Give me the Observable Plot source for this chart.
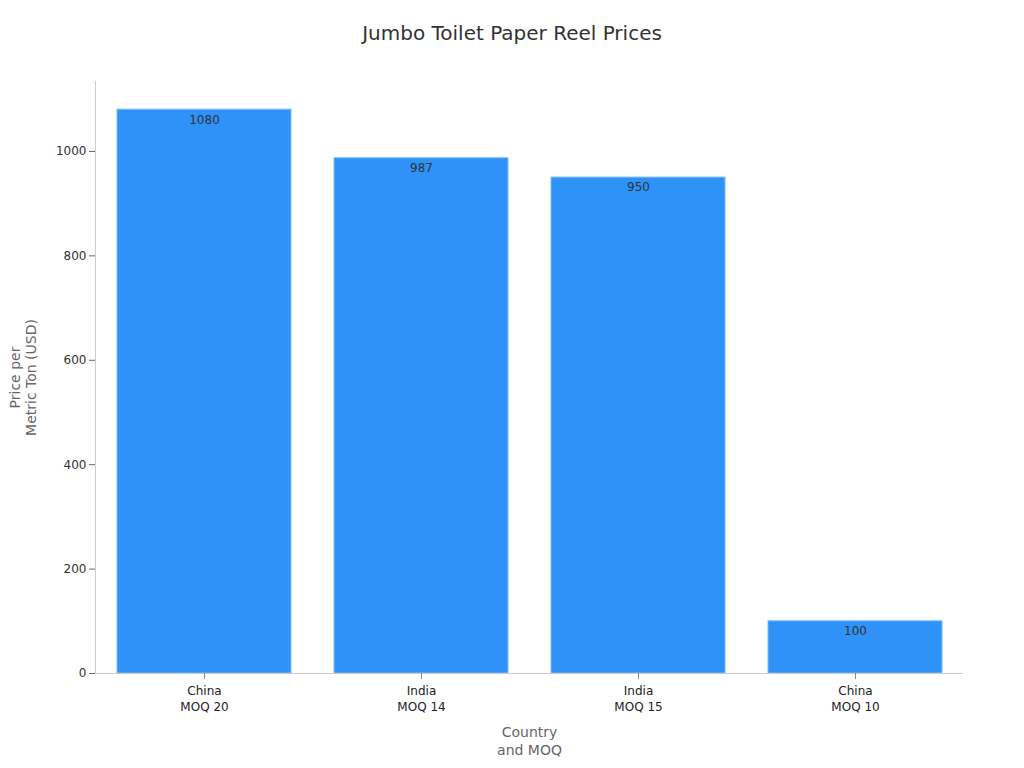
<!DOCTYPE html>
<html>
<head>
<meta charset="utf-8">
<script src="https://cdn.jsdelivr.net/npm/d3@7"></script>
<script src="https://cdn.jsdelivr.net/npm/@observablehq/plot@0.6"></script>
<style>
  html, body { margin: 0; padding: 0; background: #fff; }
  body { width: 1024px; height: 768px; overflow: hidden; font-family: "DejaVu Sans", sans-serif; }
  #title { height: 64px; box-sizing: border-box; padding-top: 20px; text-align: center; font-size: 20px; color: #333; line-height: 26px; }
</style>
</head>
<body>
<div id="title">Jumbo Toilet Paper Reel Prices</div>
<div id="chart"></div>
<script>
const countries = ["China", "India", "India", "China"];
const moqs = ["MOQ 20", "MOQ 14", "MOQ 15", "MOQ 10"];
const prices = [1080, 987, 950, 100];
const yTicks = [0, 200, 400, 600, 800, 1000];
const xLabel = "Country\nand MOQ";
const yLabel = "Price per\nMetric Ton (USD)";

const data = countries.map((c, i) => ({ key: c + "\n" + moqs[i], price: prices[i] }));
const order = data.map(d => d.key);

const chart = Plot.plot({
  width: 1024,
  height: 704,
  marginTop: 17,
  marginBottom: 95,
  marginLeft: 95,
  marginRight: 61,
  style: { fontFamily: "DejaVu Sans, sans-serif", fontSize: "12px", color: "#333", background: "#fff" },
  x: { domain: order, paddingInner: 0.2, paddingOuter: 0.1, label: null },
  y: { domain: [0, 1134], label: null },
  marks: [
    Plot.barY(data, { x: "key", y: "price", fill: "#2f92f8", stroke: "#7dbcfb", strokeWidth: 1 }),
    Plot.frame({ anchor: "left", stroke: "#ccc", strokeWidth: 1 }),
    Plot.ruleY([0], { stroke: "#ccc", strokeWidth: 1 }),
    Plot.axisY({ ticks: yTicks, tickFormat: "d", tickSize: 6, tickPadding: 3, stroke: "#666", fill: "#333", fontSize: 12, label: null }),
    Plot.axisX({ tickSize: 6, tickPadding: 4, stroke: "#888", fill: "#222", fontSize: 12, lineHeight: 1.33, label: null }),
    Plot.text(data, { x: "key", y: "price", text: d => String(d.price), dy: 10, fill: "#333", fontSize: 12, lineAnchor: "middle" }),
    Plot.text([xLabel], { frameAnchor: "bottom", text: d => d, dy: 67, fill: "#666", fontSize: 14, lineHeight: 1.3, lineAnchor: "middle", textAnchor: "middle" }),
    Plot.text([yLabel], { frameAnchor: "left", text: d => d, dx: -73, rotate: -90, fill: "#666", fontSize: 14, lineHeight: 1.15, lineAnchor: "middle", textAnchor: "middle" })
  ]
});
document.getElementById("chart").appendChild(chart);
</script>
</body>
</html>
